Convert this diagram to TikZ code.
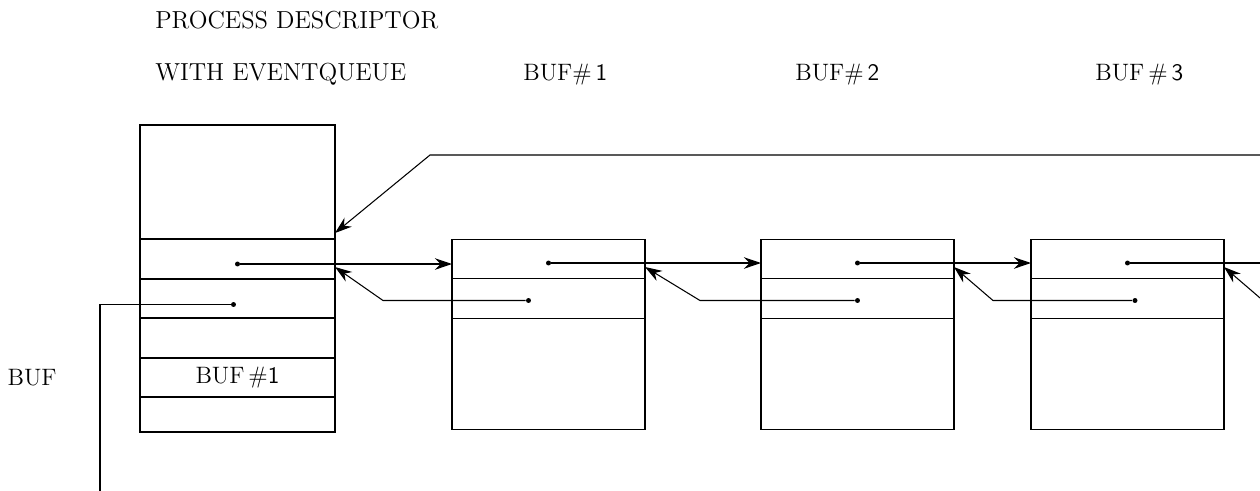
\documentclass[tikz,border=0pt]{standalone}
\usepackage{tikz}
\usetikzlibrary{positioning, arrows.meta}

\begin{document}
\begin{tikzpicture}[
            cell/.style={draw=black, line width=0.6pt, rectangle, outer sep=0pt, inner sep=0pt, font=\fontsize{13.5}{16}\selectfont},
            pdcell/.style={cell, minimum width=3.9cm},
            bufcell/.style={cell, minimum width=3.86cm},
            ptrdot/.style={circle, fill=black, inner sep=1pt},
            wire/.style={line width=0.6pt},
            ptr/.style={wire, -{Stealth[length=3.4mm, width=2.3mm]}},
            lbl/.style={font=\fontsize{14}{17}\selectfont, anchor=base west, inner sep=0pt},
            buflbl/.style={font=\fontsize{13.5}{16}\selectfont, anchor=base west, inner sep=0pt}
        ]

        \useasboundingbox (0,0) rectangle (25.2,-9.8);

        % Prozessdeskriptor
        \node[pdcell, minimum height=2.28cm, anchor=north west] (pd0) at (2.8,-2.5) {};
        \node[pdcell, minimum height=0.80cm, below=0pt of pd0] (pd1) {};
        \node[pdcell, minimum height=0.78cm, below=0pt of pd1] (pd2) {};
        \node[pdcell, minimum height=0.80cm, below=0pt of pd2] (pd3) {};
        \node[pdcell, minimum height=0.78cm, below=0pt of pd3] (pd4) {BUF\,\#\textsf{1}};
        \node[pdcell, minimum height=0.70cm, below=0pt of pd4] (pd5) {};

        % Puffer
        \node[bufcell, minimum height=0.78cm, right=2.34cm of pd1] (b1a) {};
        \node[bufcell, minimum height=0.80cm, below=0pt of b1a] (b1b) {};
        \node[bufcell, minimum height=2.22cm, below=0pt of b1b] (b1c) {};
        \node[bufcell, minimum height=0.78cm, right=2.32cm of b1a] (b2a) {};
        \node[bufcell, minimum height=0.80cm, below=0pt of b2a] (b2b) {};
        \node[bufcell, minimum height=2.22cm, below=0pt of b2b] (b2c) {};
        \node[bufcell, minimum height=0.78cm, right=1.54cm of b2a] (b3a) {};
        \node[bufcell, minimum height=0.80cm, below=0pt of b3a] (b3b) {};
        \node[bufcell, minimum height=2.22cm, below=0pt of b3b] (b3c) {};

        % Zeiger
        \node[ptrdot] (pdn1) at ([yshift=-0.1cm]pd1.center) {};
        \node[ptrdot] (pdn2) at ([xshift=-0.08cm, yshift=-0.12cm]pd2.center) {};
        \node[ptrdot] (b1n1) at ([yshift=-0.08cm]b1a.center) {};
        \node[ptrdot] (b1n2) at ([xshift=-0.4cm, yshift=-0.04cm]b1b.center) {};
        \node[ptrdot] (b2n1) at ([yshift=-0.08cm]b2a.center) {};
        \node[ptrdot] (b2n2) at ([yshift=-0.04cm]b2b.center) {};
        \node[ptrdot] (b3n1) at ([yshift=-0.08cm]b3a.center) {};
        \node[ptrdot] (b3n2) at ([xshift=0.15cm, yshift=-0.04cm]b3b.center) {};

        % Beschriftung
        \node[lbl] (hdr2) at ([xshift=0.3cm, yshift=0.9cm]pd0.north west) {WITH EVENTQUEUE};
        \node[lbl] (hdr1) at ([yshift=1.04cm]hdr2.base west) {PROCESS DESCRIPTOR};
        \node[buflbl] (hb1) at ([xshift=1.42cm]b1a.north west |- hdr2.base) {BUF\#\,\textsf{1}};
        \node[buflbl] (hb2) at ([xshift=0.68cm]b2a.north west |- hdr2.base) {BUF\#\,\textsf{2}};
        \node[buflbl] (hb3) at ([xshift=1.28cm]b3a.north west |- hdr2.base) {BUF\,\#\,\textsf{3}};
        \node[buflbl, anchor=east, left=1.66cm of pd4] (bufl) {BUF};

        % freie Enden
        \coordinate (rout) at ([xshift=2cm]b3a.east |- b3n1);
        \coordinate (rin) at ([xshift=2cm]b3b.east |- b3n2);
        \coordinate (tknee) at ([xshift=1.9cm, yshift=-0.6cm]pd0.north east);
        \coordinate (rtop) at (tknee -| rout);

        % Kanten vorwaerts
        \draw[ptr] (pdn1) -- (b1a.west |- pdn1);
        \draw[ptr] (b1n1) -- (b2a.west |- b1n1);
        \draw[ptr] (b2n1) -- (b3a.west |- b2n1);
        \draw[wire] (b3n1) -- (rout);

        % Kanten rueckwaerts
        \draw[ptr] (b1n2) -- ([xshift=0.96cm]pd2.east |- b1n2) -- ([yshift=-0.16cm]pd1.east);
        \draw[ptr] (b2n2) -- ([xshift=1.1cm]b1b.east |- b2n2) -- ([yshift=-0.16cm]b1a.east);
        \draw[ptr] (b3n2) -- ([xshift=0.78cm]b2b.east |- b3n2) -- ([yshift=-0.16cm]b2a.east);
        \draw[ptr] (rin) -- ([xshift=0.78cm]b3b.east |- b3n2) -- ([yshift=-0.16cm]b3a.east);

        % Ende der Schlange und erstes Element
        \draw[ptr] (rtop) -- (tknee) -- ([yshift=0.12cm]pd0.south east);
        \draw[wire] (pdn2) -- ([xshift=-0.8cm]pd2.west |- pdn2) -- ++(0,-4cm);

    \end{tikzpicture}
\end{document}
